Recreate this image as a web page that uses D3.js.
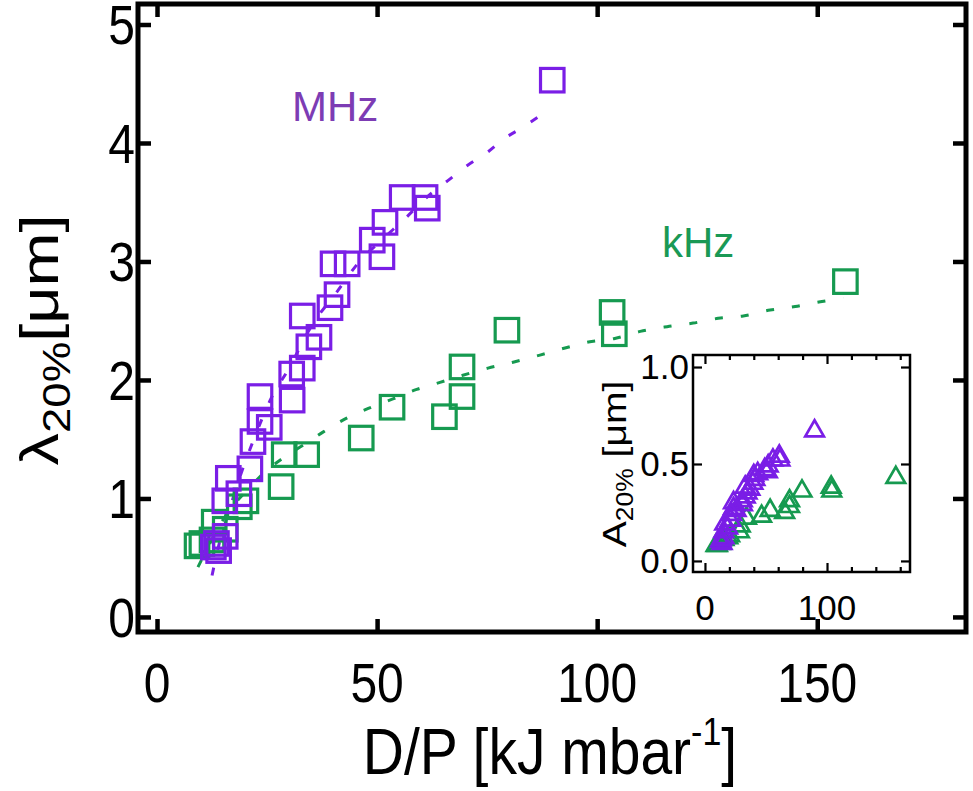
<!DOCTYPE html>
<html><head><meta charset="utf-8">
<script src="https://cdn.jsdelivr.net/npm/d3@7"></script>
<style>
html,body{margin:0;padding:0;background:#fff;}
text{font-family:"Liberation Sans",Arial,sans-serif;}
</style></head>
<body>
<svg id="chart" width="973" height="791"></svg>
<script>
// ---------- data ----------
const mhzX = [89.8,60.9,55.7,61.4,51.8,48.9,51.1,40.0,43.2,40.9,39.3,33.0,36.8,34.5,33.0,30.6,30.7,23.4,23.4,25.5,21.8,21.1,16.2,18.6,15.4,15.5,12.8,14.0,13.5];
const mhzLambda = [4.53,3.54,3.54,3.45,3.33,3.18,3.04,2.98,2.98,2.72,2.61,2.54,2.36,2.28,2.10,2.05,1.83,1.86,1.65,1.60,1.48,1.25,1.17,1.04,0.98,0.68,0.59,0.56,0.62];
const mhzA = [0.67,0.54,0.52,0.52,0.49,0.47,0.46,0.44,0.45,0.42,0.40,0.38,0.37,0.35,0.33,0.31,0.29,0.30,0.27,0.26,0.24,0.21,0.19,0.17,0.15,0.12,0.10,0.09,0.11];

const khzX = [156.4,103.4,103.9,79.5,69.3,69.3,65.3,53.4,46.4,34.0,28.9,28.2,20.2,18.7,13.0,15.5,10.2,9.1,12.5];
const khzLambda = [2.83,2.57,2.39,2.42,2.11,1.86,1.69,1.77,1.51,1.37,1.37,1.10,0.98,0.93,0.80,0.74,0.62,0.60,0.65];
const khzA = [0.43,0.38,0.36,0.36,0.31,0.28,0.25,0.26,0.23,0.22,0.18,0.15,0.13,0.12,0.10,0.11,0.08,0.08,0.09];

const mhzFitX = [12.5,14,16,19,22,26,30,35,41,46,51,56,62.5,66,70.5,75,79,83,88.2];
const mhzFitY = [0.35,0.6,0.85,1.2,1.5,1.85,2.1,2.45,2.75,3.0,3.18,3.35,3.58,3.68,3.81,3.92,4.04,4.13,4.26];
const khzFitX = [9.3,12,15,18,21,24.1,28.6,33.6,37.7,43.2,48,53.6,59,64.3,69.5,75.2,80.9,87,92.7,98,104,109.8,115.9,121.8,127.5,133.2,139.3,145,150.7,155.9];
const khzFitY = [0.42,0.62,0.82,0.97,1.09,1.21,1.34,1.46,1.56,1.68,1.76,1.84,1.92,1.98,2.04,2.10,2.15,2.21,2.27,2.32,2.35,2.41,2.45,2.48,2.52,2.54,2.59,2.62,2.66,2.69];

const mainXTicks = [0,50,100,150];
const mainYTicks = [0,1,2,3,4,5];
const insetXTicks = [0,100];
const insetXMinor = [20,40,60,80,120,140,160];
const insetYTicks = [0,0.5,1.0];

const PURPLE = "#7a1ee6", GREEN = "#169a50";

// ---------- main plot ----------
const svg = d3.select("#chart");
const L = 138, R = 966, T = 4, B = 632;
const x = d3.scaleLinear().domain([-4.32, 183.8]).range([L, R]);
const y = d3.scaleLinear().domain([-0.127, 5.173]).range([B, T]);

function label(px, py, str, size, anchor, sy){
  return svg.append("text").attr("transform",`translate(${px},${py}) scale(1,${sy})`)
    .attr("text-anchor",anchor).attr("font-size",size).attr("fill","#000").text(str);
}

const line = d3.line().x(d=>x(d[0])).y(d=>y(d[1])).curve(d3.curveMonotoneX);
svg.append("path").datum(d3.zip(mhzFitX, mhzFitY)).attr("d", line)
  .attr("fill","none").attr("stroke",PURPLE).attr("stroke-width",3).attr("stroke-dasharray","8,18");
svg.append("path").datum(d3.zip(khzFitX, khzFitY)).attr("d", line)
  .attr("fill","none").attr("stroke",GREEN).attr("stroke-width",3).attr("stroke-dasharray","8,18");

const S = 23.5;
function squares(xs, ys, col){
  svg.append("g").selectAll("rect").data(d3.zip(xs, ys)).join("rect")
    .attr("x", d=>x(d[0])-S/2).attr("y", d=>y(d[1])-S/2)
    .attr("width", S).attr("height", S)
    .attr("fill","none").attr("stroke",col).attr("stroke-width",3.2);
}
squares(khzX, khzLambda, GREEN);
squares(mhzX, mhzLambda, PURPLE);

function styleTicks(g, w){
  g.select(".domain").remove();
  g.selectAll(".tick line").attr("stroke","#000").attr("stroke-width",w);
  g.selectAll(".tick text").remove();
}
svg.append("g").attr("transform",`translate(${L},0)`)
  .call(d3.axisLeft(y).tickValues(mainYTicks).tickSize(-13)).call(g=>styleTicks(g,4.5));
svg.append("g").attr("transform",`translate(${R},0)`)
  .call(d3.axisRight(y).tickValues(mainYTicks).tickSize(-13)).call(g=>styleTicks(g,4.5));
svg.append("g").attr("transform",`translate(0,${B})`)
  .call(d3.axisBottom(x).tickValues(mainXTicks).tickSize(-13)).call(g=>styleTicks(g,4.5));
svg.append("g").attr("transform",`translate(0,${T})`)
  .call(d3.axisTop(x).tickValues(mainXTicks).tickSize(-13)).call(g=>styleTicks(g,4.5));
svg.append("rect").attr("x",L).attr("y",T).attr("width",R-L).attr("height",B-T)
  .attr("fill","none").attr("stroke","#000").attr("stroke-width",5);

mainYTicks.forEach(v=>label(135, y(v)+20, String(v), 48, "end", 1.17));
mainXTicks.forEach(v=>label(x(v), 702, String(v), 48, "middle", 1.17));

// series labels
svg.append("text").attr("x",292).attr("y",121).attr("font-size",42).attr("fill","#7d3cb4").text("MHz");
svg.append("text").attr("x",662).attr("y",257).attr("font-size",42).attr("fill","#1a9955").text("kHz");

const xt = svg.append("text").attr("transform","translate(550,774) scale(1,1.13)").attr("text-anchor","middle").attr("font-size",57).attr("fill","#000");
xt.append("tspan").text("D/P [kJ mbar");
xt.append("tspan").attr("dy",-26).attr("font-size",34).text("-1");
xt.append("tspan").attr("dy",26).text("]");

const yt = svg.append("text").attr("transform","translate(58,340) scale(1,1.2) rotate(-90)").attr("text-anchor","middle").attr("font-size",54).attr("fill","#000");
yt.append("tspan").text("λ");
yt.append("tspan").attr("dy",12).attr("font-size",38).text("20%");
yt.append("tspan").attr("dy",-12).text("[μm]");

// ---------- inset ----------
const iL = 693, iR = 910, iT = 355, iB = 572;
const ix = d3.scaleLinear().domain([-9.8, 168]).range([iL, iR]);
const iy = d3.scaleLinear().domain([-0.057, 1.062]).range([iB, iT]);
svg.append("rect").attr("x",iL).attr("y",iT).attr("width",iR-iL).attr("height",iB-iT).attr("fill","#fff");

svg.append("g").attr("transform",`translate(${iL},0)`)
  .call(d3.axisLeft(iy).tickValues(insetYTicks).tickSize(-9)).call(g=>styleTicks(g,2.2));
svg.append("g").attr("transform",`translate(${iR},0)`)
  .call(d3.axisRight(iy).tickValues(insetYTicks).tickSize(-9)).call(g=>styleTicks(g,2.2));
svg.append("g").attr("transform",`translate(0,${iB})`)
  .call(d3.axisBottom(ix).tickValues(insetXTicks).tickSize(-9)).call(g=>styleTicks(g,2.2));
svg.append("g").attr("transform",`translate(0,${iB})`)
  .call(d3.axisBottom(ix).tickValues(insetXMinor).tickSize(-5)).call(g=>styleTicks(g,2.2));
svg.append("g").attr("transform",`translate(0,${iT})`)
  .call(d3.axisTop(ix).tickValues(insetXTicks).tickSize(-9)).call(g=>styleTicks(g,2.2));
svg.append("g").attr("transform",`translate(0,${iT})`)
  .call(d3.axisTop(ix).tickValues(insetXMinor).tickSize(-5)).call(g=>styleTicks(g,2.2));

const tri = d3.symbol().type(d3.symbolTriangle).size(150);
function triangles(xs, ys, col){
  svg.append("g").selectAll("path").data(d3.zip(xs, ys)).join("path")
    .attr("d", tri).attr("transform", d=>`translate(${ix(d[0])},${iy(d[1])})`)
    .attr("fill","none").attr("stroke",col).attr("stroke-width",2.7);
}
triangles(khzX, khzA, GREEN);
triangles(mhzX, mhzA, PURPLE);

svg.append("rect").attr("x",iL).attr("y",iT).attr("width",iR-iL).attr("height",iB-iT)
  .attr("fill","none").attr("stroke","#000").attr("stroke-width",2.5);

const f1 = d3.format(".1f");
insetYTicks.forEach(v=>label(689, iy(v)+12, f1(v), 35, "end", 1.0));
insetXTicks.forEach(v=>label(ix(v), 620, String(v), 35, "middle", 1.0));

const it = svg.append("text").attr("transform","translate(626,464) scale(1,1.15) rotate(-90)").attr("text-anchor","middle").attr("font-size",34).attr("fill","#000");
it.append("tspan").text("A");
it.append("tspan").attr("dy",7).attr("font-size",23).text("20%");
it.append("tspan").attr("dy",-7).text(" [μm]");
</script>
</body></html>
